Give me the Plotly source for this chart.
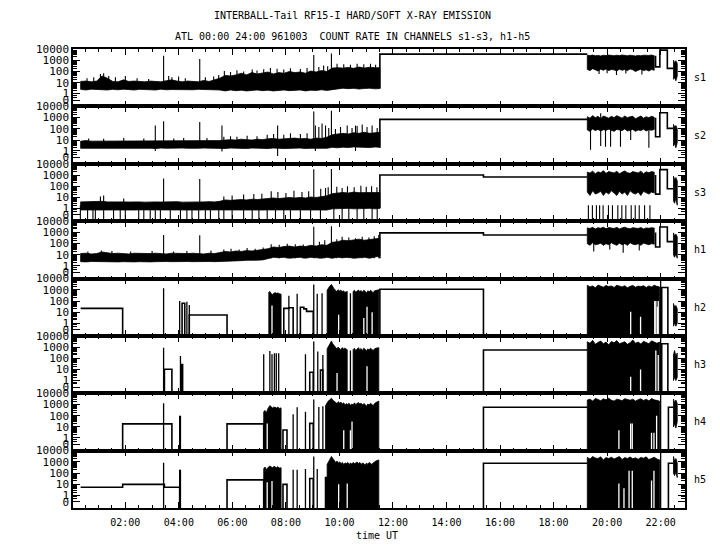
import numpy as np
import plotly.graph_objects as go
from plotly.subplots import make_subplots

# ---------------- data (count rates) ----------------
CHANNELS = ["s1", "s2", "s3", "h1", "h2", "h3", "h4", "h5"]
XTICK_H = [2, 4, 6, 8, 10, 12, 14, 16, 18, 20, 22]
XTICK_TXT = ["02:00", "04:00", "06:00", "08:00", "10:00", "12:00", "14:00", "16:00", "18:00", "20:00", "22:00"]
YTICK_V = [1, 10, 100, 1000, 10000]
YTICK_TXT = ["1", "10", "100", "1000", "10000"]

# morning noisy band, time grid (hours UT)
am_t = [0.33, 0.53, 0.73, 0.93, 1.13, 1.33, 1.53, 1.73, 1.93, 2.13,
        2.33, 2.53, 2.73, 2.93, 3.13, 3.33, 3.53, 3.73, 3.93, 4.13,
        4.33, 4.53, 4.73, 4.93, 5.13, 5.33, 5.53, 5.73, 5.93, 6.13,
        6.33, 6.53, 6.73, 6.93, 7.13, 7.33, 7.53, 7.73, 7.93, 8.13,
        8.33, 8.53, 8.73, 8.93, 9.13, 9.33, 9.53, 9.73, 9.93, 10.13,
        10.33, 10.53, 10.73, 10.93, 11.13, 11.33, 11.51]
s1_am_hi = [13, 14, 12, 14, 40, 25, 13, 12, 18, 13,
            14, 13, 12, 14, 13, 12, 15, 18, 14, 12,
            14, 13, 12, 16, 13, 18, 25, 45, 40, 50,
            70, 50, 80, 60, 70, 90, 60, 80, 70, 100,
            80, 90, 70, 110, 90, 120, 100, 200, 220, 200,
            230, 190, 250, 200, 240, 210, 220]
s1_am_lo = [2.5, 2.2, 2.6, 2.3, 2.4, 2.2, 2.5, 2.3, 2.6, 2.4,
            2.2, 2.5, 2.3, 2.4, 2.2, 2.6, 2.3, 2.4, 2.5, 2.2,
            2.4, 2.3, 2.5, 2.2, 2.4, 2.3, 2.2, 1.8, 2.2, 1.9,
            2.1, 1.8, 2.0, 2.2, 1.9, 2.1, 1.8, 2.0, 2.2, 1.9,
            2.0, 2.2, 1.8, 2.1, 2.0, 2.3, 2.0, 2.4, 2.8, 3.2,
            2.9, 3.1, 2.7, 3.0, 3.2, 2.8, 3.0]
s2_am_hi = [8, 9, 8, 8, 9, 8, 9, 8, 9, 8,
            9, 8, 8, 9, 8, 9, 8, 9, 8, 8,
            9, 8, 9, 8, 9, 8, 9, 10, 11, 10,
            12, 11, 10, 12, 11, 13, 14, 12, 13, 14,
            15, 13, 14, 12, 15, 14, 18, 30, 35, 40,
            35, 45, 40, 50, 40, 45, 50]
s2_am_lo = [1.8, 1.7, 1.9, 1.8, 1.7, 1.8, 1.9, 1.7, 1.8, 1.8,
            1.7, 1.9, 1.8, 1.8, 1.7, 1.9, 1.8, 1.7, 1.8, 1.9,
            1.8, 1.7, 1.8, 1.9, 1.8, 1.7, 1.8, 1.7, 1.9, 1.8,
            1.8, 1.7, 1.9, 1.8, 1.8, 1.7, 1.9, 1.8, 1.7, 1.8,
            1.8, 1.9, 1.7, 1.8, 1.8, 1.9, 1.8, 2.2, 2.0, 2.3,
            2.1, 2.4, 2.2, 2.3, 2.1, 2.4, 2.2]
s3_am_hi = [4, 4.2, 3.8, 4, 4.5, 4, 3.8, 4.2, 4, 3.9,
            4.1, 4, 3.8, 4.2, 4, 3.9, 4.1, 4, 4.2, 3.8,
            4, 4.1, 3.9, 4, 4.2, 4, 4.5, 6, 5.5, 6,
            6.5, 6, 7, 6.5, 7, 8, 9, 8, 9, 10,
            9, 10, 9, 11, 10, 12, 14, 22, 25, 28,
            25, 30, 27, 28, 25, 30, 28]
s3_am_lo = [0.7, 0.68, 0.72, 0.7, 0.69, 0.71, 0.7, 0.68, 0.72, 0.7,
            0.69, 0.71, 0.7, 0.68, 0.72, 0.7, 0.69, 0.71, 0.7, 0.68,
            0.72, 0.7, 0.69, 0.71, 0.7, 0.68, 0.72, 0.7, 0.69, 0.71,
            0.7, 0.68, 0.72, 0.7, 0.69, 0.71, 0.7, 0.68, 0.72, 0.7,
            0.69, 0.71, 0.7, 0.68, 0.72, 0.7, 0.69, 0.9, 1.0, 0.95,
            1.0, 0.9, 1.0, 0.95, 1.0, 0.9, 1.0]
h1_am_hi = [13, 14, 12, 13, 18, 15, 13, 14, 13, 12,
            14, 13, 12, 13, 14, 13, 12, 14, 13, 12,
            13, 14, 13, 12, 14, 13, 16, 20, 18, 22,
            20, 24, 22, 25, 28, 35, 50, 45, 55, 60,
            50, 60, 55, 70, 60, 80, 70, 130, 150, 200,
            180, 220, 250, 200, 240, 260, 300]
h1_am_lo = [2.4, 2.3, 2.5, 2.4, 2.3, 2.5, 2.4, 2.3, 2.4, 2.5,
            2.3, 2.4, 2.5, 2.3, 2.4, 2.3, 2.5, 2.4, 2.3, 2.4,
            2.5, 2.4, 2.3, 2.4, 2.5, 2.4, 2.5, 2.8, 3.0, 2.8,
            3.0, 3.2, 3.0, 3.3, 3.5, 4.5, 6, 5.5, 6, 5,
            5.5, 6, 5, 6, 5.5, 5, 6, 5, 6, 5.5,
            6, 5, 5.5, 6, 5, 6, 8]

# evening noisy band / comb, time grid
pm_t = [19.26, 19.36, 19.46, 19.56, 19.66, 19.76, 19.86, 19.96, 20.06, 20.16,
        20.26, 20.36, 20.46, 20.56, 20.66, 20.76, 20.86, 20.96, 21.06, 21.16,
        21.26, 21.36, 21.46, 21.56, 21.66, 21.76]
s1_pm_hi = [2800, 2600, 2900, 2500, 2700, 2400, 2800, 2600, 2900, 2700,
            2500, 2800, 2600, 2900, 2700, 2500, 2800, 2600, 2400, 2700,
            2500, 2800, 2600, 2700, 2900, 2500]
s1_pm_lo = [150, 120, 180, 140, 110, 160, 130, 170, 120, 150,
            140, 110, 160, 130, 150, 120, 170, 140, 100, 130,
            160, 120, 140, 110, 150, 130]
s2_pm_hi = [1200, 900, 1500, 1000, 1300, 800, 1400, 1100, 900, 1300,
            1000, 1500, 1200, 900, 1400, 1000, 1200, 1300, 800, 1100,
            1400, 900, 1200, 1000, 1300, 1100]
s2_pm_lo = [80, 60, 100, 70, 90, 65, 85, 75, 95, 70,
            60, 90, 80, 70, 100, 65, 75, 90, 60, 80,
            70, 95, 65, 85, 75, 90]
s3_pm_hi = [1800, 1500, 2200, 1300, 1900, 1600, 2400, 1400, 2000, 1700,
            1500, 2100, 1300, 1800, 2300, 1600, 1400, 2000, 1700, 1500,
            2200, 1300, 1900, 1600, 2000, 1800]
s3_pm_lo = [30, 15, 40, 20, 25, 35, 15, 30, 20, 40,
            25, 15, 35, 20, 30, 15, 40, 25, 20, 30,
            15, 35, 25, 20, 30, 25]
h1_pm_hi = [2500, 2200, 2800, 2000, 2600, 2300, 2900, 2100, 2700, 2400,
            2200, 2800, 2000, 2500, 2900, 2300, 2100, 2600, 2400, 2200,
            2700, 2000, 2500, 2300, 2600, 2400]
h1_pm_lo = [100, 70, 120, 80, 90, 110, 70, 100, 80, 120,
            90, 70, 110, 80, 100, 70, 120, 90, 80, 100,
            70, 110, 90, 80, 100, 90]

hpm_t = [19.26, 19.36, 19.46, 19.56, 19.66, 19.76, 19.86, 19.96, 20.06, 20.16,
         20.26, 20.36, 20.46, 20.56, 20.66, 20.76, 20.86, 20.96, 21.06, 21.16,
         21.26, 21.36, 21.46, 21.56, 21.66, 21.76, 21.86, 21.96]
h2_pm_hi = [2500, 1800, 2200, 1500, 2600, 2000, 1700, 2400, 1900, 2200,
            1600, 2500, 2100, 1800, 2300, 1500, 2000, 2400, 1700, 2100,
            1900, 2300, 1600, 2200, 1800, 2500, 2000, 1800]
h3_pm_hi = [3000, 2200, 4000, 1800, 2600, 3500, 2000, 2800, 1600, 3200,
            2400, 3800, 2000, 2600, 3000, 1800, 2500, 4400, 2200, 2800,
            1900, 3300, 2400, 2000, 3600, 2600, 2200, 2800]
h4_pm_hi = [2500, 3000, 2000, 3500, 2800, 2200, 3200, 2600, 3600, 2400,
            2000, 3000, 2600, 2200, 3300, 2800, 2400, 3000, 2000, 2700,
            3200, 2300, 2900, 2100, 3400, 2600, 2200, 2000]
h5_pm_hi = [2500, 1800, 3000, 2200, 2000, 2800, 1500, 2400, 2000, 2600,
            1800, 2200, 3000, 1600, 2400, 2000, 2700, 1900, 2300, 1700,
            2500, 2100, 2800, 1600, 2200, 2600, 1800, 1500]

# short noisy tail at the end of the day
tail_t = [22.48, 22.52, 22.57, 22.62]
s1_tail_hi = [1000, 600, 900, 500]
s1_tail_lo = [20, 30, 15, 40]
s2_tail_hi = [250, 150, 200, 100]
s2_tail_lo = [3, 5, 2, 6]
s3_tail_hi = [800, 400, 600, 300]
s3_tail_lo = [5, 3, 8, 2]
h1_tail_hi = [900, 500, 700, 400]
h1_tail_lo = [10, 6, 12, 5]
h2_tail_hi = [60, 30, 40, 20]
h2_tail_lo = [0.5, 1, 0.5, 1]
h3_tail_hi = [200, 500, 150, 300]
h3_tail_lo = [1, 2, 1, 2]
h4_tail_hi = [3000, 1500, 2500, 1200]
h4_tail_lo = [10, 20, 8, 30]
h5_tail_hi = [3000, 1200, 2000, 800]
h5_tail_lo = [100, 60, 120, 40]

# step (hold) segments, None separates pieces
s1_st_t = [11.51, 11.51, 19.26, None, 21.81, 21.81, 21.97, 22.25, 22.48]
s1_st_v = [3, 3500, 3500, None, 2500, 260, 8000, 190, 190]
s2_st_t = [11.51, 11.51, 19.26, None, 21.81, 21.81, 21.97, 22.25, 22.48]
s2_st_v = [2, 700, 700, None, 1000, 20, 2700, 110, 110]
s3_st_t = [11.51, 11.51, 15.38, 19.26, None, 21.81, 21.81, 21.97, 22.25, 22.48]
s3_st_v = [1, 1000, 660, 660, None, 1000, 20, 3000, 60, 60]
h1_st_t = [11.51, 11.51, 15.38, 19.26, None, 21.81, 21.81, 21.97, 22.25, 22.48]
h1_st_v = [5, 900, 590, 590, None, 1000, 50, 3000, 150, 150]
h2_st_t = [0.33, 1.9, None, 4.12, 4.12, 4.22, None, 4.39, 4.39, 5.8, None,
           7.92, 7.92, 8.11, 8.27, None, 8.54, 8.54, 8.67, 8.77, 9.02, None,
           11.51, 11.51, 15.38, None, 22.04, 22.04, 22.27]
h2_st_v = [22, 0, None, 0, 63, 0, None, 0, 5.6, 0, None,
           0, 22, 25, 0, None, 0, 28, 20, 12, 0, None,
           0, 1100, 0, None, 0, 1600, 0]
h3_st_t = [3.46, 3.46, 3.74, None, 4.08, 4.08, 4.14, None, 8.89, 8.89, 9.02, None,
           9.29, 9.29, 9.38, None, 15.38, 15.38, 19.26, None, 22.04, 22.04, 22.27]
h3_st_v = [0, 10.7, 0, None, 0, 28, 0, None, 0, 5.7, 0, None,
           0, 9, 0, None, 0, 560, 560, None, 0, 2000, 0]
h4_st_t = [1.9, 1.9, 3.74, None, 5.8, 5.8, 7.17, None, 7.89, 7.89, 8.04, None,
           8.89, 8.89, 9.02, None, 15.38, 15.38, 19.26, None, 22.29, 22.29, 22.48]
h4_st_v = [0, 19, 0, None, 0, 19, 0, None, 0, 5.4, 0, None,
           0, 21, 0, None, 0, 575, 575, None, 0, 575, 575]
h5_st_t = [0.33, 1.9, 3.46, 4.03, None, 5.8, 5.8, 7.17, None, 7.89, 7.89, 8.04, None,
           8.89, 8.89, 9.02, None, 9.48, 9.48, 9.54, None, 15.38, 15.38, 19.26, None,
           22.29, 22.29, 22.48]
h5_st_v = [5.5, 10, 5.5, 0, None, 0, 25, 0, None, 0, 10, 0, None,
           0, 33, 0, None, 0, 40, 0, None, 0, 760, 760, None,
           0, 760, 760]

# isolated spikes (time, peak)
s1_sp_t = [0.57, 0.82, 1.07, 1.19, 1.38, 1.63, 2.0, 2.44, 2.87, 3.43, 3.62, 3.74, 3.99, 4.24,
           4.78, 4.99, 5.3, 5.49, 5.7, 5.93, 6.17, 6.42, 6.74, 6.92, 7.17, 7.42, 7.67, 7.92,
           8.17, 8.54, 8.79, 9.04, 9.23, 9.41, 9.56, 9.7, 9.91, 10.16, 10.41, 10.66, 10.91,
           11.16, 11.35]
s1_sp_v = [25, 30, 60, 70, 40, 30, 40, 25, 22, 2500, 40, 30, 35, 25,
           1300, 30, 35, 50, 110, 90, 130, 100, 150, 120, 160, 200, 180, 150,
           190, 170, 200, 3000, 250, 350, 300, 4000, 500, 450, 400, 500, 450,
           480, 400]
s1_dip_t = [19.7, 20.0, 20.35, 20.7, 21.3]
s1_dip_v = [60, 70, 50, 65, 55]
s2_sp_t = [0.63, 1.19, 1.94, 2.69, 3.43, 3.81, 4.18, 4.78, 5.05, 5.68, 5.93, 6.17, 6.55,
           6.92, 7.3, 7.54, 7.92, 8.17, 8.54, 8.79, 9.04, 9.23, 9.35, 9.48, 9.6, 9.7, 9.85,
           10.04, 10.29, 10.47, 10.66, 10.85, 11.03, 11.22, 11.41, 19.76]
s2_sp_v = [14, 13, 15, 14, 470, 14, 15, 400, 15, 20, 22, 20, 25,
           22, 30, 35, 30, 40, 35, 40, 3500, 150, 300, 200, 120, 4000, 100,
           150, 200, 120, 180, 250, 150, 200, 120, 2500]
s2_dip_t = [3.12, 5.61, 7.69, 9.1, 10.6, 19.38, 19.94, 20.13, 20.5, 20.88, 21.56]
s2_dip_v = [1.0, 0.9, 0.3, 1.0, 1.0, 1.3, 2.5, 2.5, 2.5, 10, 2]
s3_sp_t = [1.07, 1.19, 1.94, 3.43, 4.78, 5.68, 5.99, 6.42, 6.8, 7.1, 7.45, 7.7, 8.0, 8.3,
           8.6, 8.85, 9.04, 9.3, 9.48, 9.58, 9.7, 9.9, 10.1, 10.3, 10.55, 10.8, 11.0, 11.2, 11.4]
s3_sp_v = [12, 15, 8, 500, 450, 12, 15, 18, 20, 22, 35, 30, 25, 40,
           30, 35, 3200, 60, 70, 80, 3500, 90, 70, 100, 80, 110, 90, 100, 80]
s3_drop_t = [0.32, 0.59, 0.79, 0.88, 1.19, 1.56, 1.81, 2.0, 2.5, 2.69, 2.93, 3.12, 3.31, 3.68,
             4.06, 4.3, 4.49, 4.74, 4.99, 5.18, 5.49, 5.68, 5.99, 6.42, 6.74, 6.99, 7.3, 7.61,
             7.92, 8.17, 8.54, 8.92, 9.29, 9.79, 10.1, 10.35, 10.66, 10.91, 11.22, 11.41,
             19.3, 19.45, 19.6, 19.72, 19.85, 20.05, 20.2, 20.4, 20.55, 20.7, 20.9, 21.05,
             21.2, 21.4, 21.6]
h1_sp_t = [0.6, 1.1, 1.5, 2.2, 3.0, 3.43, 3.8, 4.3, 4.78, 5.2, 5.68, 5.95, 6.25, 6.55, 6.85,
           7.15, 7.45, 7.75, 8.05, 8.35, 8.65, 9.04, 9.25, 9.45, 9.7, 9.9, 10.1, 10.35, 10.6,
           10.85, 11.1, 11.3, 11.47]
h1_sp_v = [20, 25, 22, 20, 22, 600, 20, 22, 550, 25, 30, 35, 30, 40, 35,
           45, 90, 80, 100, 90, 85, 3200, 150, 200, 3500, 250, 400, 350, 300,
           400, 350, 450, 600]
h1_dip_t = [19.5, 20.1, 20.6, 21.2]
h1_dip_v = [20, 30, 15, 25]
h2_sp_t = [3.43, 4.03, 4.30, 4.39, 8.11, 8.42, 9.04, 9.17, 9.35, 10.41, 22.0]
h2_sp_v = [1350, 100, 87, 44, 300, 430, 3000, 450, 480, 500, 10000]
h3_sp_t = [3.43, 4.06, 7.17, 7.4, 7.48, 7.57, 7.64, 7.73, 8.73, 9.04, 9.19, 9.38, 10.41, 22.0]
h3_sp_v = [900, 160, 230, 460, 230, 280, 280, 280, 230, 3100, 400, 200, 500, 10000]
h4_sp_t = [3.43, 4.03, 4.06, 8.27, 8.42, 8.73, 9.04, 9.23, 9.38, 22.0]
h4_sp_v = [1300, 100, 100, 135, 575, 230, 2800, 600, 700, 10000]
h5_sp_t = [3.43, 4.03, 4.06, 8.27, 8.42, 8.73, 9.04, 9.17, 22.0]
h5_sp_v = [850, 200, 200, 200, 200, 230, 3000, 230, 10000]

# dense "comb" blocks of the hard channels (top envelope, None separates blocks)
h2_cb_t = [7.36, 7.4, 7.45, 7.5, 7.55, 7.6, 7.65, 7.7, 7.75, 7.82, None,
           9.54, 9.58, 9.63, 9.7, 9.75, 9.8, 9.85, 9.9, 9.95, 10.0, 10.05, 10.1, 10.15, 10.2, 10.29, None,
           10.51, 10.56, 10.61, 10.66, 10.71, 10.76, 10.81, 10.86, 10.91, 10.96, 11.01, 11.06, 11.11,
           11.16, 11.21, 11.26, 11.31, 11.36, 11.47]
h2_cb_v = [600, 700, 450, 380, 500, 550, 480, 520, 450, 400, None,
           900, 1500, 2000, 3000, 1800, 1200, 900, 700, 1000, 800, 900, 700, 800, 600, 700, None,
           700, 900, 600, 800, 950, 700, 850, 600, 900, 750, 500, 800, 650,
           900, 700, 550, 800, 900, 1000]
h3_cb_t = [9.54, 9.58, 9.63, 9.7, 9.75, 9.8, 9.85, 9.9, 9.95, 10.0, 10.05, 10.1, 10.15, 10.2, 10.29, None,
           10.51, 10.56, 10.61, 10.66, 10.71, 10.76, 10.81, 10.86, 10.91, 10.96, 11.01, 11.06, 11.11,
           11.16, 11.21, 11.26, 11.31, 11.36, 11.47]
h3_cb_v = [700, 1000, 1800, 3500, 2000, 1300, 900, 700, 1000, 800, 600, 900, 700, 800, 600, None,
           600, 800, 500, 700, 900, 600, 750, 500, 800, 650, 450, 700, 550,
           800, 600, 500, 700, 800, 900]
h4_cb_t = [7.17, 7.22, 7.27, 7.32, 7.4, 7.45, 7.5, 7.55, 7.6, 7.65, 7.7, 7.75, 7.82, None,
           9.48, 9.54, 9.58, 9.63, 9.7, 9.75, 9.8, 9.86, 9.91, 9.96, 10.01, 10.06, 10.11, 10.16,
           10.21, 10.26, 10.31, 10.36, 10.41, 10.46, 10.51, 10.56, 10.61, 10.66, 10.71, 10.76,
           10.81, 10.86, 10.91, 10.96, 11.01, 11.06, 11.11, 11.16, 11.21, 11.26, 11.31, 11.36, 11.47]
h4_cb_v = [230, 300, 180, 400, 800, 600, 500, 600, 550, 500, 600, 450, 500, None,
           800, 1500, 2000, 2500, 3600, 2500, 1800, 1500, 1200, 1800, 1300, 1600, 1100, 1400,
           900, 1200, 1000, 1300, 800, 1100, 900, 1400, 1000, 1200, 1500, 1100,
           1300, 900, 1200, 1000, 700, 1100, 900, 1300, 1000, 800, 1200, 1500, 2000]
h5_cb_t = [7.17, 7.22, 7.27, 7.32, 7.4, 7.45, 7.5, 7.55, 7.6, 7.65, 7.7, 7.75, 7.82, None,
           9.54, 9.58, 9.63, 9.7, 9.75, 9.8, 9.86, 9.91, 9.96, 10.01, 10.06, 10.11, 10.16,
           10.21, 10.26, 10.31, 10.36, 10.41, 10.46, 10.51, 10.56, 10.61, 10.66, 10.71, 10.76,
           10.81, 10.86, 10.91, 10.96, 11.01, 11.06, 11.11, 11.16, 11.21, 11.26, 11.31, 11.36, 11.47]
h5_cb_v = [250, 350, 200, 300, 430, 380, 300, 400, 350, 300, 380, 280, 300, None,
           600, 1000, 1500, 3000, 2000, 1200, 900, 1200, 800, 1000, 700, 900, 600,
           800, 700, 900, 600, 800, 650, 900, 700, 800, 1000, 700, 900,
           600, 800, 700, 500, 800, 600, 900, 700, 600, 800, 1000, 1200, 1500]

# places inside the combs where the rate did not fall to zero (time, lowest level)
h2_gap_t = [7.48, 9.97, 10.91, 11.03, 11.22, 20.88, 21.25, 21.78, 21.82, 21.88, 21.91]
h2_gap_v = [40, 6, 3, 30, 10, 11, 4, 100, 100, 30, 100]
h3_gap_t = [9.91, 11.03, 20.88, 21.25, 21.82, 21.91]
h3_gap_v = [5, 20, 2.3, 10, 500, 200]
h4_gap_t = [7.3, 10.16, 10.41, 10.47, 20.44, 20.88, 20.94, 21.66, 21.75, 21.85]
h4_gap_v = [20, 5, 5, 30, 5, 20, 20, 3, 3, 100]
h5_gap_t = [7.3, 7.48, 9.97, 10.29, 20.44, 20.63, 20.82, 20.94, 21.66, 21.75]
h5_gap_v = [15, 20, 10, 12, 12, 4.5, 160, 160, 22, 160]

# ---------------- drawing ----------------
def F(v):
    """axis transform: log10 of rate, zero rate at the panel floor"""
    if v is None:
        return None
    return float(np.log10(max(float(v), 0.0) + 0.08))


YMIN, YMAX = -1.1, F(10000)
X0, X1 = 0.045, 22.91
INK = "black"

fig = make_subplots(rows=8, cols=1, shared_xaxes=True, vertical_spacing=0)


def band(row, t, lo, hi):
    xs = list(t) + list(t)[::-1] + [t[0]]
    ys = [F(v) for v in hi] + [F(v) for v in lo][::-1] + [F(hi[0])]
    fig.add_trace(go.Scatter(x=xs, y=ys, mode="lines", fill="toself", fillcolor=INK,
                             line=dict(color=INK, width=0.8), hoverinfo="skip",
                             showlegend=False), row=row, col=1)


def comb(row, t, v):
    xs, ys, seg = [], [], []
    for a, b in list(zip(t, v)) + [(None, None)]:
        if a is None:
            if seg:
                xs += [p[0] for p in seg] + [seg[-1][0], seg[0][0], seg[0][0], None]
                ys += [F(p[1]) for p in seg] + [F(0), F(0), F(seg[0][1]), None]
            seg = []
        else:
            seg.append((a, b))
    fig.add_trace(go.Scatter(x=xs, y=ys, mode="lines", fill="toself", fillcolor=INK,
                             line=dict(color=INK, width=0.8), hoverinfo="skip",
                             showlegend=False), row=row, col=1)


def steps(row, t, v, width=1.6):
    fig.add_trace(go.Scatter(x=t, y=[F(a) for a in v], mode="lines", connectgaps=False,
                             line=dict(color=INK, width=width, shape="hv"),
                             hoverinfo="skip", showlegend=False), row=row, col=1)


def vlines(row, t, v, base, color=INK, width=1.1):
    xs, ys = [], []
    for a, b in zip(t, v):
        xs += [a, a, None]
        ys += [F(base), F(b), None]
    fig.add_trace(go.Scatter(x=xs, y=ys, mode="lines", line=dict(color=color, width=width),
                             hoverinfo="skip", showlegend=False), row=row, col=1)


# s1
band(1, am_t, s1_am_lo, s1_am_hi)
band(1, pm_t, s1_pm_lo, s1_pm_hi)
band(1, tail_t, s1_tail_lo, s1_tail_hi)
vlines(1, s1_sp_t, s1_sp_v, 5)
vlines(1, s1_dip_t, s1_dip_v, 500)
steps(1, s1_st_t, s1_st_v)
# s2
band(2, am_t, s2_am_lo, s2_am_hi)
band(2, pm_t, s2_pm_lo, s2_pm_hi)
band(2, tail_t, s2_tail_lo, s2_tail_hi)
vlines(2, s2_sp_t, s2_sp_v, 3)
vlines(2, s2_dip_t, s2_dip_v, 200)
steps(2, s2_st_t, s2_st_v)
# s3
band(3, am_t, s3_am_lo, s3_am_hi)
band(3, pm_t, s3_pm_lo, s3_pm_hi)
band(3, tail_t, s3_tail_lo, s3_tail_hi)
vlines(3, s3_sp_t, s3_sp_v, 2)
vlines(3, s3_drop_t, [0] * len(s3_drop_t), 2)
steps(3, s3_st_t, s3_st_v)
# h1
band(4, am_t, h1_am_lo, h1_am_hi)
band(4, pm_t, h1_pm_lo, h1_pm_hi)
band(4, tail_t, h1_tail_lo, h1_tail_hi)
vlines(4, h1_sp_t, h1_sp_v, 5)
vlines(4, h1_dip_t, h1_dip_v, 300)
steps(4, h1_st_t, h1_st_v)
# h2..h5
hard = [
    (5, h2_cb_t, h2_cb_v, h2_pm_hi, h2_tail_lo, h2_tail_hi, h2_sp_t, h2_sp_v, h2_gap_t, h2_gap_v, h2_st_t, h2_st_v),
    (6, h3_cb_t, h3_cb_v, h3_pm_hi, h3_tail_lo, h3_tail_hi, h3_sp_t, h3_sp_v, h3_gap_t, h3_gap_v, h3_st_t, h3_st_v),
    (7, h4_cb_t, h4_cb_v, h4_pm_hi, h4_tail_lo, h4_tail_hi, h4_sp_t, h4_sp_v, h4_gap_t, h4_gap_v, h4_st_t, h4_st_v),
    (8, h5_cb_t, h5_cb_v, h5_pm_hi, h5_tail_lo, h5_tail_hi, h5_sp_t, h5_sp_v, h5_gap_t, h5_gap_v, h5_st_t, h5_st_v),
]
for (row, cbt, cbv, pmhi, tlo, thi, spt, spv, gpt, gpv, stt, stv) in hard:
    comb(row, cbt, cbv)
    comb(row, hpm_t, pmhi)
    vlines(row, gpt, gpv, 0, color="white", width=1.3)
    band(row, tail_t, tlo, thi)
    vlines(row, spt, spv, 0, width=1.3)
    steps(row, stt, stv)

# ---------------- axes ----------------
minor_y = [F(k * 10 ** d) for d in range(0, 4) for k in range(2, 10)] + [F(0.2), F(0.45), F(0.7)]
for r in range(1, 9):
    fig.update_yaxes(row=r, col=1, range=[YMIN, YMAX], tickmode="array",
                     tickvals=[-0.55] + [F(v) for v in YTICK_V], ticktext=["0"] + YTICK_TXT,
                     ticks="inside", ticklen=7, tickwidth=1.2, tickcolor=INK,
                     minor=dict(tickmode="array", tickvals=minor_y, ticks="inside",
                                ticklen=4, tickwidth=1, tickcolor=INK, showgrid=False),
                     showline=True, linecolor=INK, linewidth=1.5, mirror="ticks",
                     showgrid=False, zeroline=False,
                     tickfont=dict(family="DejaVu Sans Mono", size=11, color=INK))
    fig.update_xaxes(row=r, col=1, range=[X0, X1], tickmode="array",
                     tickvals=XTICK_H, ticktext=XTICK_TXT,
                     ticks="inside", ticklen=6, tickwidth=1.2, tickcolor=INK,
                     minor=dict(dtick=0.5, tick0=0, ticks="inside", ticklen=3,
                                tickwidth=1, tickcolor=INK, showgrid=False),
                     showline=True, linecolor=INK, linewidth=1.5, mirror="ticks",
                     showgrid=False, zeroline=False,
                     tickfont=dict(family="DejaVu Sans Mono", size=10, color=INK))
fig.update_xaxes(row=8, col=1, ticklabelstandoff=4)

ann = [
    dict(text="INTERBALL-Tail RF15-I HARD/SOFT X-RAY EMISSION", x=0.457, y=1.074),
    dict(text="ATL 00:00 24:00 961003  COUNT RATE IN CHANNELS s1-s3, h1-h5", x=0.457, y=1.028),
    dict(text="time UT", x=0.497, y=-0.059),
]
for i, name in enumerate(CHANNELS):
    ann.append(dict(text=name, x=1.0245, y=1 - (i + 0.5) / 8))
fig.update_layout(annotations=[dict(a, xref="paper", yref="paper", showarrow=False,
                                    xanchor="center", yanchor="middle",
                                    font=dict(family="DejaVu Sans Mono", size=10, color=INK))
                               for a in ann])
# the page body adds an 8 px margin, so the figure is a little smaller than the window
fig.update_layout(template="none", width=704, height=534,
                  margin=dict(l=65, r=27, t=41, b=34),
                  paper_bgcolor="white", plot_bgcolor="white", showlegend=False)
fig.write_html("out.html")
